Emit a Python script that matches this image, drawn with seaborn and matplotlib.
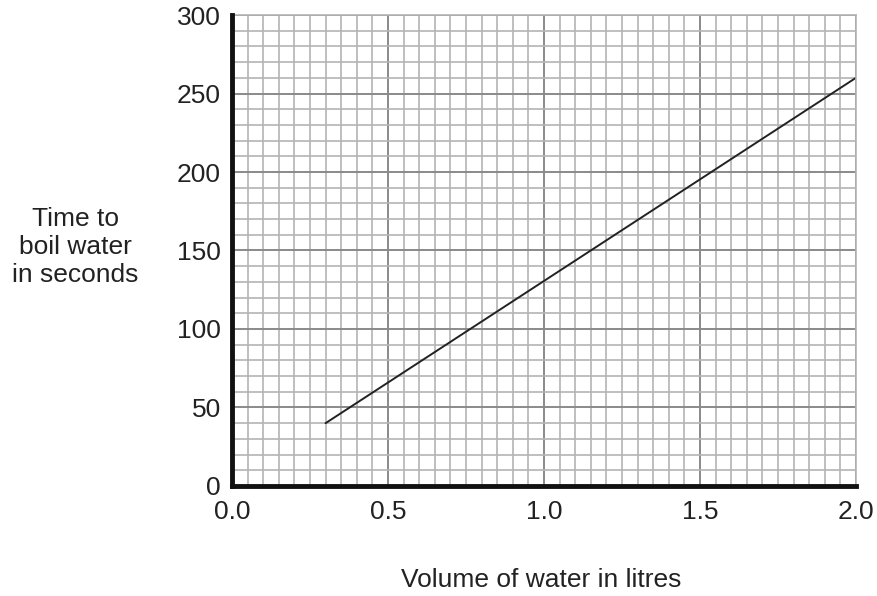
import numpy as np
import pandas as pd
import matplotlib
matplotlib.use("Agg")
import matplotlib.pyplot as plt
import seaborn as sns
from matplotlib.ticker import MultipleLocator

# data
volume = [0.3, 2.0]
boil_time = [40, 260]

x_ticks = [0.0, 0.5, 1.0, 1.5, 2.0]
y_ticks = [0, 50, 100, 150, 200, 250, 300]

df = pd.DataFrame({"volume": volume, "time": boil_time})

sns.set_style("white")
plt.rcParams["font.family"] = ["Liberation Sans", "DejaVu Sans"]

fig = plt.figure(figsize=(8.77, 5.96), dpi=100)
ax = fig.add_axes([0.2645, 0.1846, 0.7115, 0.7902])

sns.lineplot(data=df, x="volume", y="time", color="#222222", linewidth=1.4, ax=ax)

ax.set_xlim(0, 2.0)
ax.set_ylim(0, 300)
ax.set_xticks(x_ticks)
ax.set_xticklabels([f"{t:.1f}" for t in x_ticks])
ax.set_yticks(y_ticks)
ax.xaxis.set_minor_locator(MultipleLocator(0.05))
ax.yaxis.set_minor_locator(MultipleLocator(10))

ax.grid(which="minor", color="#b4b4b4", linewidth=1.2)
ax.grid(which="major", color="#8a8a8a", linewidth=1.4)
ax.set_axisbelow(True)

for side in ["top", "right"]:
    ax.spines[side].set_color("#b4b4b4")
    ax.spines[side].set_linewidth(1.2)
for side in ["left", "bottom"]:
    ax.spines[side].set_color("#111111")
    ax.spines[side].set_linewidth(3.5)
    ax.spines[side].set_zorder(5)

ax.tick_params(axis="both", which="major", labelsize=19, length=5, width=1,
               color="#222222", direction="out", labelcolor="#222222")
ax.tick_params(axis="both", which="minor", length=0)
ax.tick_params(axis="y", pad=3)
ax.tick_params(axis="x", pad=5)

ax.set_xlabel("")
ax.set_ylabel("")
fig.text(0.617, 0.027, "Volume of water in litres", ha="center", va="center",
         fontsize=19, color="#222222")
fig.text(0.086, 0.586, "Time to\nboil water\nin seconds", ha="center", va="center",
         fontsize=19, color="#222222", linespacing=1.2)

fig.savefig("out.png", dpi=100)
